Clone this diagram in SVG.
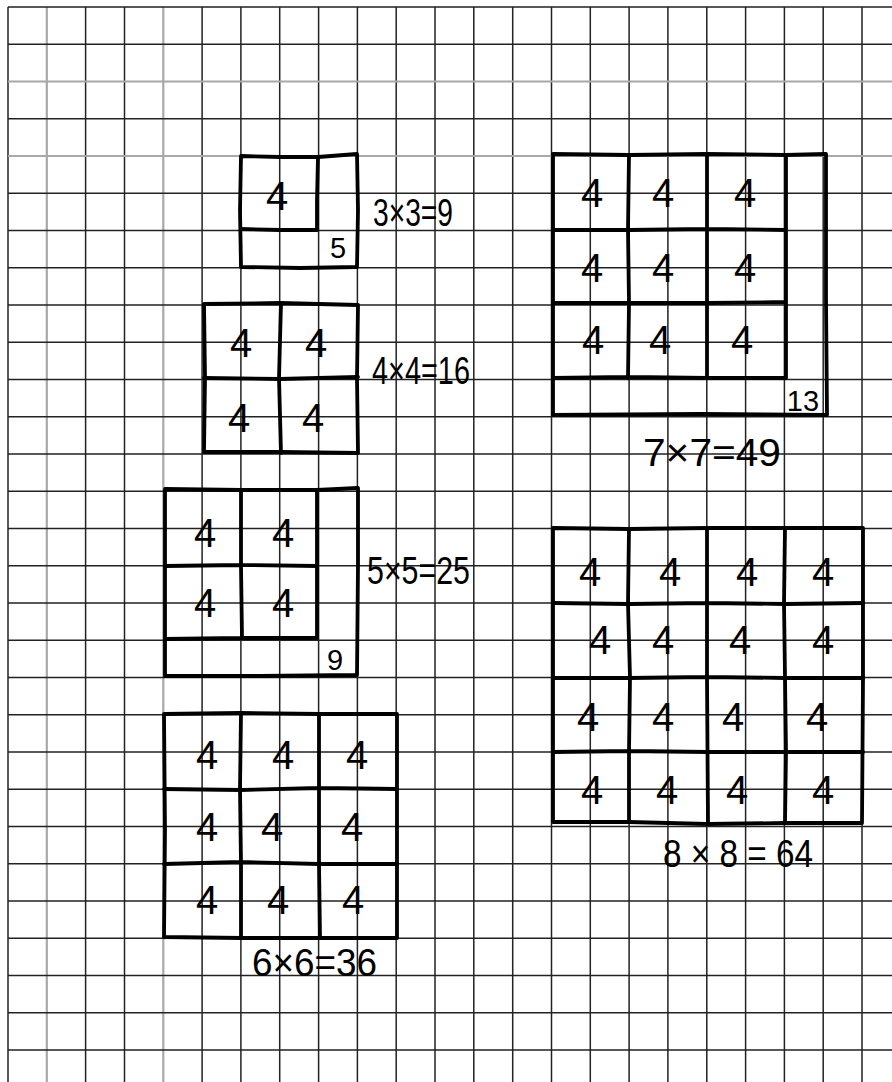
<svg xmlns="http://www.w3.org/2000/svg" width="892" height="1082" viewBox="0 0 892 1082">
<style>
.g{stroke:#222;stroke-width:1.5;fill:none}
.gl{stroke:#a8a8a8;stroke-width:2.2;fill:none}
.h{stroke:#000;stroke-width:3.8;fill:none;stroke-linecap:round;stroke-linejoin:round}
.n{font-family:"Liberation Sans",Arial,sans-serif;font-size:40px;fill:#000;text-anchor:middle}
.s{font-family:"Liberation Sans",Arial,sans-serif;font-size:29px;fill:#000;text-anchor:middle}
.l{font-family:"Liberation Sans",Arial,sans-serif;font-size:38px;fill:#000}
</style>
<rect width="892" height="1082" fill="#fff"/>
<g id="grid">
<path class="g" d="M8,7V1082M85.6,7V1082M124.5,7V1082M202.1,7V1082M240.9,7V1082M279.7,7V1082M318.6,7V1082M357.4,7V1082M396.2,7V1082M435,7V1082M473.8,7V1082M512.7,7V1082M551.5,7V1082M590.3,7V1082M629.1,7V1082M667.9,7V1082M706.8,7V1082M745.6,7V1082M784.4,7V1082M823.2,7V1082M862,7V1082"/>
<path class="gl" d="M46.8,7V1082M163.3,7V1082"/>
<path class="g" d="M8,7H892M8,44.3H892M8,118.8H892M8,193.3H892M8,230.5H892M8,267.8H892M8,305H892M8,342.3H892M8,379.5H892M8,416.8H892M8,454H892M8,491.3H892M8,528.5H892M8,565.8H892M8,603H892M8,640.3H892M8,677.5H892M8,714.8H892M8,752H892M8,789.3H892M8,826.5H892M8,863.8H892M8,901H892M8,938.3H892M8,975.5H892M8,1012.8H892M8,1050H892"/>
<path class="gl" d="M8,81.5H892M8,156H892"/>
</g>
<g id="square3">
<path class="h" d="M241,156 L280,157 L318,157 L357,154 L358,210 L357,267 L300,268 L241,267 L240,210 Z"/>
<path class="h" d="M318,157 L317,200 L317,230 L280,230 L241,229"/>
<text class="n" x="277" y="210">4</text>
<text class="s" x="338" y="258">5</text>
<text class="l" x="373" y="226" textLength="80" lengthAdjust="spacingAndGlyphs">3×3=9</text>
</g>
<g id="square4">
<path class="h" d="M204,304 L280,303 L358,305 L357,378 L358,453 L280,452 L204,452 L205,378 Z"/>
<path class="h" d="M281,303 L279,378 L281,453 M204,378 L280,379 L358,377"/>
<text class="n" x="241" y="357">4</text>
<text class="n" x="316" y="357">4</text>
<text class="n" x="239" y="432">4</text>
<text class="n" x="313" y="432">4</text>
<text class="l" x="372" y="384" textLength="98" lengthAdjust="spacingAndGlyphs">4×4=16</text>
</g>
<g id="square5">
<path class="h" d="M165,489 L241,490 L317,490 L358,488 L358,565 L357,675 L260,676 L165,676 L165,580 Z"/>
<path class="h" d="M241,490 L241,566 L242,638 M317,490 L317,638 M165,566 L241,565 L317,566 M165,639 L241,638 L317,638"/>
<text class="n" x="205" y="547">4</text>
<text class="n" x="283" y="547">4</text>
<text class="n" x="205" y="617">4</text>
<text class="n" x="283" y="617">4</text>
<text class="s" x="335" y="670">9</text>
<text class="l" x="367" y="584" textLength="103" lengthAdjust="spacingAndGlyphs">5×5=25</text>
</g>
<g id="square6">
<path class="h" d="M164,714 L241,713 L319,714 L397,714 L397,830 L397,938 L319,938 L241,938 L164,937 L165,830 Z"/>
<path class="h" d="M241,713 L240,789 L241,864 L241,938 M319,714 L319,864 L320,938 M164,789 L241,790 L319,788 L397,789 M164,864 L241,862 L319,864 L397,864"/>
<text class="n" x="207" y="769">4</text>
<text class="n" x="283" y="769">4</text>
<text class="n" x="357" y="769">4</text>
<text class="n" x="207" y="841">4</text>
<text class="n" x="272" y="841">4</text>
<text class="n" x="352" y="841">4</text>
<text class="n" x="207" y="914">4</text>
<text class="n" x="278" y="914">4</text>
<text class="n" x="353" y="914">4</text>
<text class="l" x="252" y="976" textLength="125" lengthAdjust="spacingAndGlyphs">6×6=36</text>
</g>
<g id="square7">
<path class="h" d="M553,154 L629,155 L707,154 L786,155 L826,154 L826,300 L827,415 L700,414 L553,415 L553,300 Z"/>
<path class="h" d="M629,155 L628,230 L629,303 L628,378 M707,154 L707,303 L707,378 M786,155 L786,303 L786,378 M553,230 L629,230 L707,229 L786,230 M553,303 L629,303 L707,303 L786,302 M553,378 L629,377 L707,378 L786,378"/>
<text class="n" x="592" y="207">4</text>
<text class="n" x="663" y="207">4</text>
<text class="n" x="745" y="207">4</text>
<text class="n" x="592" y="282">4</text>
<text class="n" x="663" y="282">4</text>
<text class="n" x="745" y="282">4</text>
<text class="n" x="593" y="354">4</text>
<text class="n" x="660" y="354">4</text>
<text class="n" x="742" y="354">4</text>
<text class="s" x="803" y="411">13</text>
<text class="l" x="643" y="466" textLength="138" lengthAdjust="spacingAndGlyphs">7×7=49</text>
</g>
<g id="square8">
<path class="h" d="M553,528 L629,529 L707,528 L785,528 L863,528 L863,680 L862,823 L785,823 L707,824 L629,822 L553,822 L553,680 Z"/>
<path class="h" d="M629,529 L628,603 L630,678 L629,752 L629,822 M707,528 L707,678 L708,823 M785,528 L784,603 L786,752 L785,823 M553,603 L629,604 L707,603 L785,604 L863,603 M553,678 L629,678 L707,677 L785,678 L863,678 M553,752 L629,751 L707,752 L785,752 L863,752"/>
<text class="n" x="590" y="586">4</text>
<text class="n" x="670" y="586">4</text>
<text class="n" x="747" y="586">4</text>
<text class="n" x="823" y="586">4</text>
<text class="n" x="600" y="654">4</text>
<text class="n" x="663" y="654">4</text>
<text class="n" x="740" y="654">4</text>
<text class="n" x="823" y="654">4</text>
<text class="n" x="588" y="731">4</text>
<text class="n" x="663" y="731">4</text>
<text class="n" x="733" y="731">4</text>
<text class="n" x="817" y="731">4</text>
<text class="n" x="592" y="804">4</text>
<text class="n" x="667" y="804">4</text>
<text class="n" x="737" y="804">4</text>
<text class="n" x="823" y="804">4</text>
<text class="l" x="663" y="867" textLength="150" lengthAdjust="spacingAndGlyphs">8 × 8 = 64</text>
</g>
</svg>
